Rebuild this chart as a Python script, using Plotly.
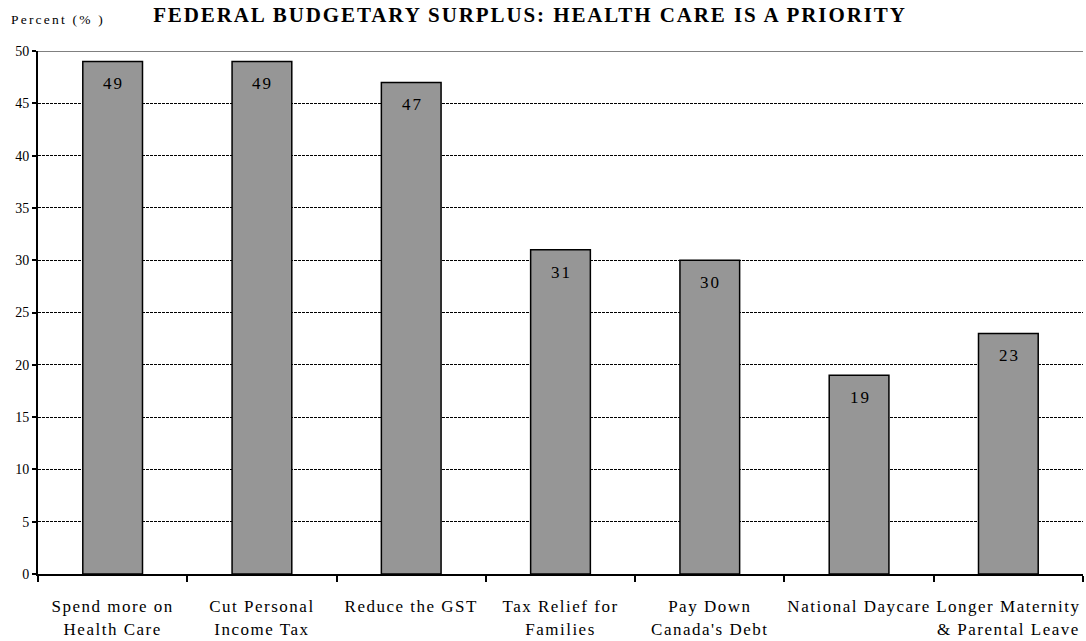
import plotly.graph_objects as go

categories = ["Spend more on<br>Health Care", "Cut Personal<br>Income Tax", "Reduce the GST",
              "Tax Relief for<br>Families", "Pay Down<br>Canada's Debt", "National Daycare",
              "Longer Maternity<br>& Parental Leave"]
values = [49, 49, 47, 31, 30, 19, 23]
value_labels = ["49", "49", "47", "31", "30", "19", "23"]
y_ticks = [0, 5, 10, 15, 20, 25, 30, 35, 40, 45, 50]

FONT = "Times New Roman, Liberation Serif, serif"


def spaced(text, px):
    parts = text.split("<br>")
    return "<br>".join(f'<span style="letter-spacing:{px}px">{p}</span>' for p in parts)


fig = go.Figure()
fig.add_trace(go.Bar(
    x=categories, y=values, width=0.4,
    marker=dict(color="#969696", line=dict(color="black", width=1.5)),
    hoverinfo="skip",
))

for c, v, t in zip(categories, values, value_labels):
    fig.add_annotation(x=c, y=v, text=spaced(t, 2), showarrow=False, yanchor="top", yshift=-11,
                       xshift=1, font=dict(family=FONT, size=17, color="black"))

fig.add_shape(type="line", xref="paper", x0=0, x1=1, yref="y", y0=50, y1=50,
              line=dict(color="#808080", width=2), layer="below")

fig.add_annotation(xref="paper", yref="paper", x=-0.028, y=1.06, xanchor="left", yanchor="middle",
                   text=spaced("Percent (% )", 2.2), showarrow=False,
                   font=dict(family=FONT, size=13.5, color="black"))

fig.update_layout(
    width=1086, height=641,
    margin=dict(l=38, r=3, t=51, b=67),
    paper_bgcolor="white", plot_bgcolor="white",
    showlegend=False,
    title=dict(text="<b>" + spaced("FEDERAL BUDGETARY SURPLUS: HEALTH CARE IS A PRIORITY", 1.9) + "</b>",
               x=0.488, xanchor="center", y=0.977, yanchor="middle",
               font=dict(family=FONT, size=21, color="black")),
    font=dict(family=FONT, color="black"),
    bargap=0.6,
)
fig.update_xaxes(
    type="category", tickson="boundaries", ticks="outside", ticklen=6, tickwidth=2,
    tickcolor="black", showline=True, linecolor="black", linewidth=2,
    tickvals=categories, ticktext=[spaced(c, 1.5) for c in categories],
    tickfont=dict(family=FONT, size=17, color="black"), showgrid=False,
    range=[-0.5, 6.5], ticklabelstandoff=16, tickangle=0, automargin=False,
)
fig.update_yaxes(
    range=[0, 50], tickvals=y_ticks, ticks="outside", ticklen=4, tickwidth=2,
    tickcolor="black", showline=True, linecolor="black", linewidth=2,
    showgrid=True, gridcolor="black", gridwidth=1, griddash="3px,1px",
    tickfont=dict(family=FONT, size=14, color="black"), zeroline=False, automargin=False,
)

fig.write_html("out.html")
